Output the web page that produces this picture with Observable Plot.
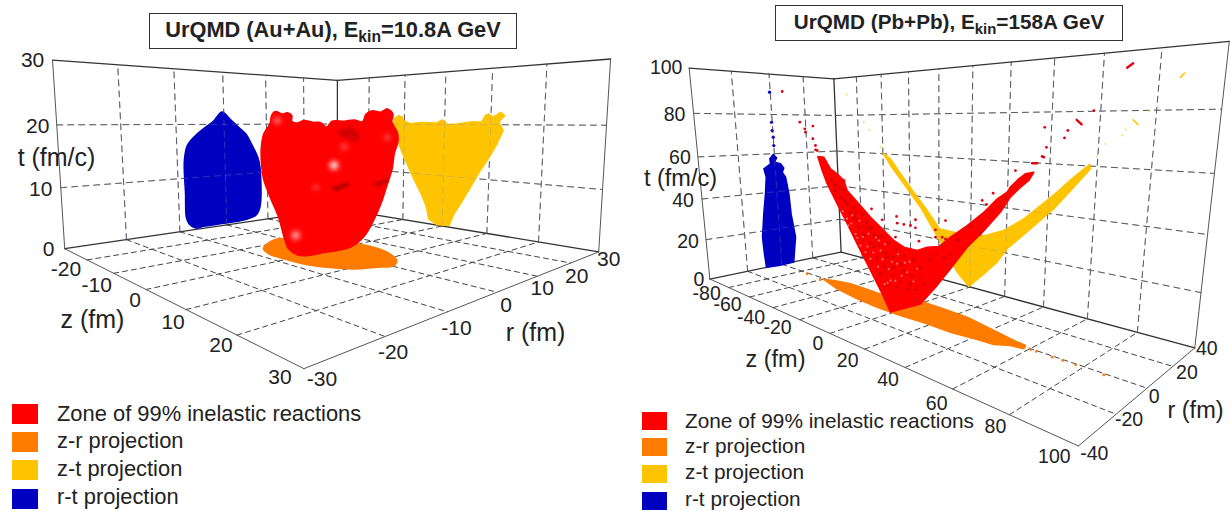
<!DOCTYPE html>
<html><head><meta charset="utf-8">
<script src="https://cdn.jsdelivr.net/npm/d3@7"></script>
<script src="https://cdn.jsdelivr.net/npm/@observablehq/plot@0.6"></script>
<style>
html,body{margin:0;padding:0;background:#fff}
#w{position:relative;width:1231px;height:511px;overflow:hidden;font-family:"Liberation Sans",Arial,sans-serif;color:#222}
.t{position:absolute;border:1px solid #333;background:#fff;font-weight:bold;text-align:center;box-sizing:border-box;white-space:nowrap}
.t sub{font-size:.72em;vertical-align:-.35em;line-height:0}
.s{position:absolute}.l{position:absolute;white-space:nowrap;line-height:1;transform:translateY(-50%)}
</style></head><body><div id="w"></div>
<script>
const legendLabels=["Zone of 99% inelastic reactions","z-r projection","z-t projection","r-t projection"];
const legendColors=["#ff0000","#ff7c00","#ffc400","#0000c0"];
// Au+Au 10.8A GeV: projections (r,t), (z,t), (z,r); zone outline in the plane z=r (u,t)
const auBlueRT=[[-0.4,22.4],[1.5,20.9],[3.3,19.4],[4.9,18.1],[6.4,15.7],[7.7,13.2],[8.2,11.1],[8.0,2.7],[6.9,1.1],[4.0,0.5],[-0.6,0.4],[-5.0,0.4],[-6.8,0.3],[-8.1,1.3],[-8.6,2.6],[-8.6,7.1],[-8.6,13.3],[-7.9,16.1],[-6.2,17.9],[-4.0,19.5],[-2.2,20.7]];
const auYellowZT=[[-12.8,21.1],[-11.5,21.8],[-10.6,21.5],[-10.3,20.8],[-8.4,20.1],[-5.8,20.4],[-1.7,20.3],[-0.6,20.9],[0.2,20.4],[0.6,20.0],[2.9,20.1],[5.8,20.5],[8.2,20.5],[8.9,21.7],[9.5,21.9],[10.4,21.3],[11.9,22.2],[12.7,21.6],[11.6,20.5],[12.5,19.0],[11.4,16.6],[9.9,14.1],[8.2,11.6],[6.2,8.3],[4.1,4.9],[2.7,2.8],[1.6,0.3],[-1.2,0.1],[-3.3,1.0],[-3.9,3.3],[-5.1,5.6],[-7.3,8.9],[-9.5,12.5],[-11.4,15.9],[-12.1,18.7],[-12.8,20.1]];
const auOrangeZR=[[-8.0,-6.9],[-10.6,-4.3],[-12.6,-0.7],[-11.0,1.0],[-0.9,6.6],[3.4,6.8],[7.2,5.8],[11.7,2.9],[13.3,0.4],[12.3,-2.0],[10.7,-5.0],[7.5,-7.1],[3.8,-8.3],[-0.5,-8.5],[-4.1,-8.4]];
const auRedUT=[[-6.2,21.5],[-5.8,22.1],[-5.0,21.7],[-4.5,21.9],[-4.0,21.5],[-4.0,20.6],[-3.4,20.3],[-2.7,20.7],[-1.6,20.4],[-0.9,20.4],[-0.2,19.7],[0.4,20.6],[1.7,20.6],[2.8,20.8],[3.7,20.5],[4.1,21.7],[4.8,22.2],[5.7,22.0],[6.4,22.5],[7.0,21.7],[6.9,20.5],[7.5,18.9],[7.6,17.6],[7.2,15.5],[7.0,13.2],[6.5,10.8],[5.8,7.6],[5.0,4.9],[3.9,2.2],[2.4,0.5],[-0.2,-0.3],[-3.2,-0.9],[-4.5,0.2],[-5.0,2.1],[-5.6,5.4],[-6.5,8.6],[-7.2,11.5],[-7.4,13.9],[-7.4,16.3],[-7.1,18.6],[-6.4,20.2]];
const auDark1=[[0.4,10.1],[2.1,11.0],[2.2,10.5],[0.8,9.6]];
const auDark2=[[5.0,10.8],[6.5,11.6],[6.5,11.1],[5.4,10.4]];
const auDark3=[[1.0,18.9],[2.4,19.7],[3.3,18.6],[3.1,17.3],[2.2,17.9],[1.3,18.4]];
const auGlowUT=[[0.6,13.7],[-3.7,2.4],[-5.6,20.7],[1.7,16.6],[6.4,18.1],[-1.4,10.2]];
const auGlowSize=[7,7,4,4,3,3];
const auGlowOpacity=[.85,.6,.5,.3,.35,.3];
// Pb+Pb 158A GeV
const pbRedZT=[[-60.7,60.2],[-55.9,60.1],[-51.0,55.0],[-46.1,53.0],[-41.2,50.3],[-39.1,45.9],[-31.0,40.7],[-23.2,35.6],[-15.7,31.5],[-8.5,27.5],[-2.4,25.6],[5.4,25.5],[11.0,27.8],[17.3,29.1],[23.2,33.7],[31.3,39.2],[38.8,45.0],[44.5,50.3],[48.5,53.0],[49.8,54.8],[53.0,57.8],[55.5,59.6],[58.7,60.3],[56.9,57.5],[53.2,54.5],[49.9,51.4],[46.0,45.9],[39.0,38.4],[31.4,31.1],[23.3,21.3],[15.5,12.2],[7.0,3.2],[-11.5,-5.1],[-16.8,2.1],[-24.3,11.3],[-32.1,20.7],[-40.0,30.5],[-47.0,39.0],[-54.2,47.8],[-57.7,53.8]];
const pbYellowZT=[[-59.8,60.3],[-54.1,57.6],[-46.7,50.4],[-37.2,41.8],[-27.9,33.5],[-21.1,26.8],[-20.0,25.3],[-10.3,25.0],[-0.1,24.1],[8.6,26.2],[18.6,29.9],[28.7,36.3],[36.5,42.8],[43.8,49.0],[50.7,55.4],[57.0,60.6],[57.4,59.0],[51.0,51.6],[42.7,42.2],[32.1,32.5],[20.6,22.0],[15.4,15.0],[8.1,8.1],[-0.7,0.1],[-8.0,5.7],[-16.7,16.6],[-23.4,24.0],[-32.5,34.6],[-44.4,45.4],[-54.2,54.2]];
const pbBlueRT=[[-0.7,59.6],[1.1,57.8],[-0.2,55.6],[3.2,54.6],[5.0,52.3],[3.9,50.1],[5.7,47.3],[7.1,38.2],[7.7,27.1],[9.6,13.8],[8.3,5.4],[7.5,-0.2],[-1.8,-0.4],[-9.2,0.1],[-9.8,7.6],[-10.2,16.7],[-8.5,29.0],[-6.7,39.5],[-5.6,48.1],[-6.6,52.5],[-2.6,54.9],[-2.8,57.5]];
const pbOrangeZR=[[-59.3,-1.0],[-54.3,1.4],[-44.1,3.7],[-29.2,3.6],[-15.9,3.1],[-0.1,9.1],[11.8,8.9],[25.0,8.2],[37.3,5.3],[44.8,3.5],[51.9,1.8],[57.4,1.0],[58.5,-1.8],[53.6,-2.6],[49.0,-6.0],[42.1,-6.6],[30.7,-8.2],[18.7,-8.2],[4.7,-9.1],[-9.5,-9.2],[-26.9,-7.8],[-42.2,-5.6]];
const pbDarkZT=[[-41.2,50.3],[-47.9,45.2],[-39.4,39.8],[-34.7,38.8],[-25.7,30.8],[-19.1,27.3],[-12.9,19.5],[-2.6,15.5],[7.1,14.7],[23.3,27.2],[37.5,37.0],[45.9,47.6],[-32.6,33.0],[-21.6,22.5],[-8.8,15.8],[1.3,10.6],[-17.5,11.1],[-6.9,7.3],[-50,50],[-48,48],[-45,47],[-44,42],[-42,46],[-41,41],[-38,36],[-37,42],[-35,34],[-33,37],[-31,30],[-29,36],[-28,27],[-26,33],[-24,24],[-23,31],[-21,28],[-20,18],[-18,24],[-16,28],[-15,15],[-14,21],[-12,26],[-10,12],[-9,20],[-7,24],[-5,10],[-4,18],[-2,22],[0,8],[2,14],[3,21],[5,9],[7,19],[9,12],[12,23],[16,26],[20,25],[27,33],[33,39],[42,46],[48,51]];
const pbLightZT=[[-39.3,29.8],[-30.8,21.7],[-27.4,19.2],[-17.2,21.7],[-12.0,14.4],[-6.7,17.7],[-0.6,15.2],[-24.1,16.7],[-34.1,26.6],[-18.1,26.0],[5.3,17.8],[-36.1,34.8],[-42.4,32.5],[-11.1,9.4],[-43,36],[-40,33],[-37,31],[-33,25],[-31,33],[-29,26],[-26,22],[-25,28],[-22,20],[-20,27],[-19,14],[-16,18],[-14,25],[-13,8],[-10,18],[-8,10],[-6,22],[-4,13],[-2,19],[1,20],[3,12],[-15,7]];
const pbRedDotsZT=[[-6.5,38.0],[-6.2,35.2],[-2.2,35.2],[1.7,35.3],[4.6,38.0],[4.5,34.7],[-7.4,29.1],[6.4,29.5],[-22.4,39.4],[-15.6,35.4],[15.5,35.4],[15.5,32.5],[19.0,33.0],[20.7,32.6],[20.7,39.7],[38.0,49.1],[39.9,47.9],[42.7,52.1],[51.6,60.4],[61.5,65.4],[62.9,68.3],[-61.0,63.0],[-88.6,91.0],[-74.4,76.1],[-70.4,73.0],[-70.0,71.4],[-63.5,74.3],[-64.1,68.4],[-62.2,65.3],[-62.3,63.3],[78.0,79.2],[62.0,74.4],[70.0,73.5],[69.0,71.3],[62.1,65.2]];
const pbRedStreaks=[[[86.9,90.4],[88.5,91.4]],[[72.7,76.6],[74.4,75.3]],[[57.9,63.1],[59.8,63.2]]];
const pbYellowDotsZT=[[-89.1,91.1],[-74.9,76.2],[-70.9,72.2],[69.7,73.5],[68.7,71.4],[62.6,68.4],[77.4,79.7],[59.7,63.7],[-61.8,63.4]];
const pbYellowStreaks=[[[86.7,90.3],[87.9,91.5]],[[72.2,76.9],[74.0,75.3]]];
const pbBlueDotsRT=[[-0.4,91.1],[-0.4,76.1],[-0.4,71.9],[0.0,68.5],[0.0,64.2]];
const pbOrangeDotsZR=[[-73.8,-1.1],[-60.4,-2.2],[60.5,-0.6],[62.8,-0.6],[69.0,-0.8],[72.8,-0.6],[77.4,-0.6],[87.1,-0.9]];

const A={zMin:-30,zMax:30,rMin:-30,rMax:30,tMax:30,
 zGrid:[-20,-10,0,10,20],rGrid:[-20,-10,0,10,20],tGrid:[10,20],
 zLab:[-20,-10,0,10,20,30],rLab:[-30,-20,-10,0,10,20,30],tLab:[0,10,20,30],
 corners:[[-30,-30,0,64,248],[-30,-30,30,52,60],[-30,30,0,337,208],[-30,30,30,337,80],[30,30,0,598,252],[30,30,30,610,58],[30,-30,0,304,368]],
 zNudge:[[-21,9],[-17,12],[-11,11],[-13,13],[-16,10],[-24,9]],rNudge:[[18,11],[8,16],[9,16],[9,13],[5,12],[6,13],[10,7]],tNudge:[[-16,1],[-20,2],[-19,1],[-20,0]],fs:21};
const B={zMin:-100,zMax:100,rMin:-40,rMax:40,tMax:100,
 zGrid:[-80,-60,-40,-20,0,20,40,60,80],rGrid:[-20,0,20],tGrid:[20,40,60,80],
 zLab:[-80,-60,-40,-20,0,20,40,60,80,100],rLab:[-40,-20,0,20,40],tLab:[0,20,40,60,80,100],
 corners:[[-100,-40,0,709,278],[-100,-40,100,689,68],[-100,40,0,841,252],[-100,40,100,833,78],[100,40,0,1194,347],[100,40,100,1229,41],[100,-40,0,1078,446]],
 zNudge:[[-22,6],[-22,8],[-22,10],[-22,8],[-12,10],[-17,12],[-17,12],[-16,15],[-14,12],[-24,11]],rNudge:[[16,8],[13,6],[7,9],[14,6],[12,1]],tNudge:[[-11,1],[-18,2],[-19,2],[-18,1],[-19,1],[-23,0]],fs:19.5};
function solve(M,b){const n=b.length;M=M.map((r,i)=>[...r,b[i]]);for(let i=0;i<n;i++){let p=i;for(let k=i+1;k<n;k++)if(Math.abs(M[k][i])>Math.abs(M[p][i]))p=k;[M[i],M[p]]=[M[p],M[i]];for(let k=0;k<n;k++)if(k!=i){const f=M[k][i]/M[i][i];for(let j=i;j<=n;j++)M[k][j]-=f*M[i][j]}}return M.map((r,i)=>r[n]/r[i])}
function calib(c){const sz=c.zMax,sr=c.rMax,st=c.tMax,R=[],Y=[];
 for(const [z,r,t,x,y] of c.corners){const a=z/sz,b=r/sr,d=t/st;R.push([a,b,d,1,0,0,0,0,-x*a,-x*b,-x*d]);Y.push(x);R.push([0,0,0,0,a,b,d,1,-y*a,-y*b,-y*d]);Y.push(y)}
 const N=Array.from({length:11},(_,i)=>Array.from({length:11},(_,j)=>d3.sum(R,r=>r[i]*r[j]))),v=Array.from({length:11},(_,i)=>d3.sum(R,(r,k)=>r[i]*Y[k]));
 const p=solve(N,v);
 c.proj=(z,r,t)=>{const a=z/sz,b=r/sr,d=t/st,w=p[8]*a+p[9]*b+p[10]*d+1;return [(p[0]*a+p[1]*b+p[2]*d+p[3])/w,(p[4]*a+p[5]*b+p[6]*d+p[7])/w]};
}
calib(A);calib(B);
const onRT=c=>([r,t])=>c.proj(c.zMin,r,t);
const onZT=c=>([z,t])=>c.proj(z,c.rMax,t);
const onZR=c=>([z,r])=>c.proj(z,r,0);
const onUT=c=>([u,t])=>c.proj(u,u,t);
const onZ0T=c=>([z,t])=>c.proj(z,0,t);
function frame(c){const P=c.proj,dash=[],wall=[],solid=[],soft=[];let id=0;
 const seg=(arr,a,b)=>{id++;arr.push({id,x:P(...a)[0],y:P(...a)[1]},{id,x:P(...b)[0],y:P(...b)[1]})};
 for(const r of c.rGrid){seg(wall,[c.zMin,r,0],[c.zMin,r,c.tMax]);seg(dash,[c.zMin,r,0],[c.zMax,r,0])}
 for(const z of c.zGrid){seg(wall,[z,c.rMax,0],[z,c.rMax,c.tMax]);seg(dash,[z,c.rMin,0],[z,c.rMax,0])}
 for(const t of c.tGrid){seg(wall,[c.zMin,c.rMin,t],[c.zMin,c.rMax,t]);seg(wall,[c.zMin,c.rMax,t],[c.zMax,c.rMax,t])}
 seg(solid,[c.zMin,c.rMin,c.tMax],[c.zMin,c.rMax,c.tMax]);seg(solid,[c.zMin,c.rMax,c.tMax],[c.zMax,c.rMax,c.tMax]);
 seg(solid,[c.zMin,c.rMax,0],[c.zMin,c.rMax,c.tMax]);
 seg(solid,[c.zMin,c.rMin,0],[c.zMin,c.rMax,0]);seg(solid,[c.zMin,c.rMax,0],[c.zMax,c.rMax,0]);
 seg(soft,[c.zMin,c.rMin,0],[c.zMin,c.rMin,c.tMax]);seg(soft,[c.zMax,c.rMax,0],[c.zMax,c.rMax,c.tMax]);
 seg(soft,[c.zMin,c.rMin,0],[c.zMax,c.rMin,0]);seg(soft,[c.zMax,c.rMin,0],[c.zMax,c.rMax,0]);
 return {dash,wall,solid,soft}}
const blur=s=>(i,sc,v,d,ctx,next)=>{const g=next(i,sc,v,d,ctx);g.style.filter=`blur(${s}px)`;return g};
const L=(d,o)=>Plot.line(d,{x:"x",y:"y",z:"id",...o});
const poly=(vals,on,col,curve="linear",extra={})=>{const pts=vals.map(on);return Plot.line(curve==="linear"?[...pts,pts[0]]:pts,{x:d=>d[0],y:d=>d[1],fill:col,stroke:col,strokeWidth:1.5,strokeLinejoin:"round",curve,...extra})};
const dots=(vals,on,col,r,op=1)=>{const pts=vals.map(on);return Plot.dot(pts,{x:d=>d[0],y:d=>d[1],r,fill:col,fillOpacity:op,stroke:"none"})};
const streak=(seg,on,col,w)=>{const pts=seg.map(on);return Plot.line(pts,{x:d=>d[0],y:d=>d[1],stroke:col,strokeWidth:w,strokeLinecap:"round"})};
function labs(c){const F="Liberation Sans";const txt=(arr,fn,nud)=>{const rows=arr.map((v,i)=>{const q=fn(v);return {s:String(v),x:q[0]+nud[i][0],y:q[1]+nud[i][1]}});return Plot.text(rows,{x:"x",y:"y",text:"s",fontSize:c.fs,fontFamily:F,fill:"#222"})};
 return [txt(c.tLab,t=>c.proj(c.zMin,c.rMin,t),c.tNudge),txt(c.zLab,z=>c.proj(z,c.rMin,0),c.zNudge),txt(c.rLab,r=>c.proj(c.zMax,r,0),c.rNudge)]}
const tA=(s,x,y,fs)=>Plot.text([s],{x:()=>x,y:()=>y,text:d=>d,fontSize:fs,fontFamily:"Liberation Sans",fill:"#222"});
function base(f){return [L(f.wall,{stroke:"#444",strokeWidth:1,strokeDasharray:"6,5"}),L(f.dash,{stroke:"#444",strokeWidth:1,strokeDasharray:"5,4"}),L(f.solid,{stroke:"#333",strokeWidth:1.3}),L(f.soft,{stroke:"#555",strokeWidth:1})]}
const fA=frame(A),fB=frame(B);
const [c1,c2,c3,c4]=legendColors;
const glow=auGlowUT.map((v,i)=>({p:onUT(A)(v),r:auGlowSize[i],o:auGlowOpacity[i]}));
const plot=Plot.plot({width:1231,height:511,margin:0,x:{domain:[0,1231],range:[0,1231],axis:null},y:{domain:[0,511],range:[0,511],axis:null},style:{background:"#fff"},
 marks:[...base(fA),
 poly(auBlueRT,onRT(A),c4,"catmull-rom-closed"),poly(auYellowZT,onZT(A),c3),
 L(fA.wall,{stroke:"#8890b0",strokeOpacity:.35,strokeWidth:1,strokeDasharray:"6,5"}),
 poly(auOrangeZR,onZR(A),c2,"catmull-rom-closed"),poly(auRedUT,onUT(A),c1,"catmull-rom-closed"),
 Plot.dot(glow,{x:d=>d.p[0],y:d=>d.p[1],r:"r",fill:"#fff",fillOpacity:"o",stroke:"none",render:blur(2.5)}),
 poly(auDark1,onUT(A),"#c00000","linear",{render:blur(.8)}),poly(auDark2,onUT(A),"#cc0000","linear",{render:blur(.8)}),poly(auDark3,onUT(A),"#d40000","linear",{render:blur(1.5)}),
 ...base(fB),
 poly(pbBlueRT,onRT(B),c4),dots(pbBlueDotsRT,onRT(B),c4,1.6),
 poly(pbYellowZT,onZT(B),c3),dots(pbYellowDotsZT,onZT(B),"#ffd860",1),...pbYellowStreaks.map(s=>streak(s,onZT(B),c3,1.6)),
 L(fB.wall,{stroke:"#8890b0",strokeOpacity:.3,strokeWidth:1,strokeDasharray:"6,5"}),
 poly(pbOrangeZR,onZR(B),c2),dots(pbOrangeDotsZR,onZR(B),c2,1.4),
 poly(pbRedZT,onZ0T(B),c1),dots(pbRedDotsZT,onZ0T(B),"#e00010",1.4),...pbRedStreaks.map(s=>streak(s,onZ0T(B),"#e00010",2.4)),
 dots(pbDarkZT,onZ0T(B),"#c00000",2,.5),dots(pbLightZT,onZ0T(B),"#ff8080",1),
 ...labs(A),...labs(B),
 tA("t (fm/c)",56,157,25),tA("z (fm)",92,319,25),tA("r (fm)",535,332,25),
 tA("t (fm/c)",680,178,23.5),tA("z (fm)",775,359,23.5),tA("r (fm)",1195,410,23.5)]});
const w=document.getElementById("w");w.appendChild(plot);plot.style.position="absolute";plot.style.left=0;plot.style.top=0;
function title(html,l,t,wd,h,fs){const d=document.createElement("div");d.className="t";d.innerHTML=html;Object.assign(d.style,{left:l+"px",top:t+"px",width:wd+"px",height:h+"px",lineHeight:(h-4)+"px",fontSize:fs+"px"});w.appendChild(d)}
title("UrQMD (Au+Au), E<sub>kin</sub>=10.8A GeV",149,13,368,36,21.8);
title("UrQMD (Pb+Pb), E<sub>kin</sub>=158A GeV",775,5,348,36,20.7);
function legend(x,tx,ys,cs,h,sw,fs){legendLabels.forEach((s,i)=>{const b=document.createElement("div");b.className="s";Object.assign(b.style,{left:x+"px",top:(cs[i]-h/2)+"px",width:sw+"px",height:h+"px",background:legendColors[i]});w.appendChild(b);const e=document.createElement("div");e.className="l";e.textContent=s;Object.assign(e.style,{left:tx+"px",top:ys[i]+"px",fontSize:fs+"px"});w.appendChild(e)})}
legend(12,57,[414,441,469,497],[414,442,470,499],20,26,21.9);
legend(642,685,[421,446,472,499],[421,447,474,501],18,25,20.8);
</script></body></html>
